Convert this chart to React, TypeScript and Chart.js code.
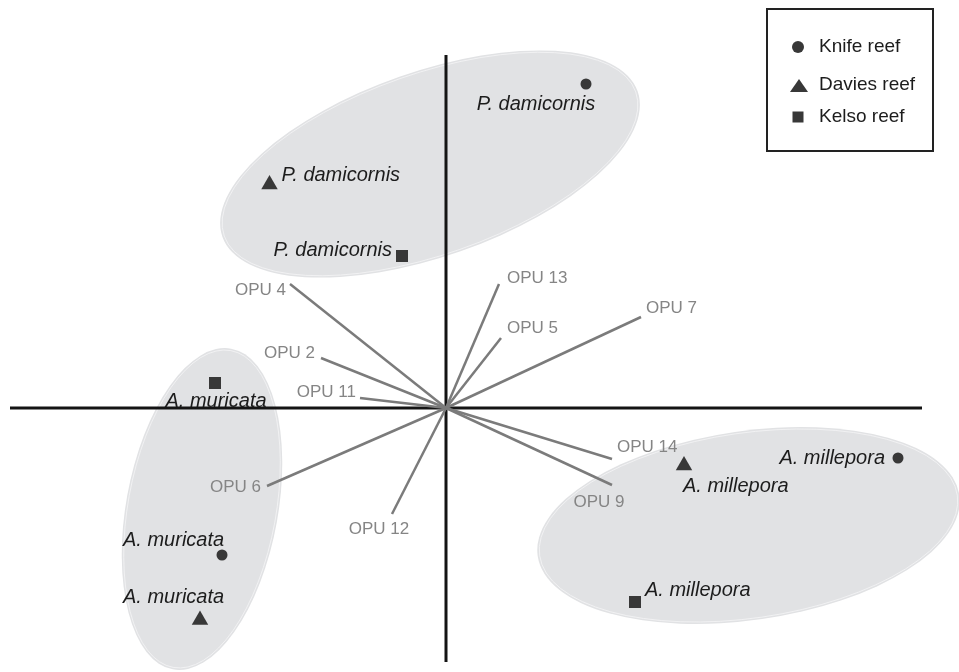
import React, { useEffect, useRef } from 'react';
import { Chart, registerables } from 'chart.js';

Chart.register(...registerables);

// ---------- data ----------
const REEFS = ['Knife reef', 'Davies reef', 'Kelso reef'];
const SPECIES = ['P. damicornis', 'A. muricata', 'A. millepora'];

// sample scores, ordered as SPECIES
const KNIFE_X = [1.4, -2.24, 4.52];
const KNIFE_Y = [3.24, -1.47, -0.5];
const DAVIES_X = [-1.765, -2.46, 2.38];
const DAVIES_Y = [2.235, -2.12, -0.575];
const KELSO_X = [-0.44, -2.31, 1.89];
const KELSO_Y = [1.52, 0.25, -1.94];

// OPU vectors (loadings)
const OPU_LABELS = ['OPU 4', 'OPU 2', 'OPU 11', 'OPU 6', 'OPU 12', 'OPU 13', 'OPU 5', 'OPU 7', 'OPU 14', 'OPU 9'];
const OPU_X = [-1.56, -1.25, -0.86, -1.79, -0.54, 0.53, 0.55, 1.95, 1.66, 1.66];
const OPU_Y = [1.24, 0.5, 0.1, -0.78, -1.06, 1.24, 0.7, 0.91, -0.51, -0.77];

// species group ellipses (ordered as SPECIES): centre, semi-axes, rotation (deg)
const ELLIPSE_CX = [-0.16, -2.44, 3.025];
const ELLIPSE_CY = [2.44, -1.01, -1.175];
const ELLIPSE_A = [2.2, 1.63, 2.13];
const ELLIPSE_B = [0.925, 0.76, 0.946];
const ELLIPSE_ANGLE = [19.3, 79.7, 8.24];

// axis line extents and visible ranges
const AXIS_X = [-4.36, 4.76];
const AXIS_Y = [-2.54, 3.53];
const X_RANGE = [-4.46, 5.13];
const Y_RANGE = [-2.64, 4.08];

// ---------- styles ----------
const MARK = '#383838';
const VEC = '#7b7b7b';
const OPU_TEXT = '#858585';
const TEXT = '#1c1c1c';
const FILL = '#e1e2e4';
const FONT = '"Liberation Sans", Arial, sans-serif';

// label offsets in px: [dx, dy, align] per reef, per species
const SPECIES_LABEL_POS: [number, number, CanvasTextAlign][][] = [
  [[-50, 20, 'center'], [-99, -15, 'left'], [-13, 0, 'right']],
  [[12, -9, 'left'], [-77, -23, 'left'], [-1, 21, 'left']],
  [[-10, -6, 'right'], [1, 18, 'center'], [10, -12, 'left']],
];
const OPU_LABEL_POS: [number, number, CanvasTextAlign][] = [
  [-4, 6, 'right'], [-6, -5, 'right'], [-4, -6, 'right'], [-6, 1, 'right'], [-13, 15, 'center'],
  [8, -6, 'left'], [6, -10, 'left'], [5, -9, 'left'], [5, -12, 'left'], [-13, 17, 'center'],
];

const pts = (xs: number[], ys: number[]) => xs.map((x, i) => ({ x, y: ys[i] }));

export default function App() {
  const ref = useRef<HTMLCanvasElement>(null);

  useEffect(() => {
    const canvas = ref.current;
    if (!canvas) return;

    const reefData = [pts(KNIFE_X, KNIFE_Y), pts(DAVIES_X, DAVIES_Y), pts(KELSO_X, KELSO_Y)];
    const reefStyles = [
      { pointStyle: 'circle', pointRadius: 5.5 },
      { pointStyle: 'triangle', pointRadius: 9.5 },
      { pointStyle: 'rect', pointRadius: 8.5 },
    ];

    const datasets: any[] = reefData.map((d, i) => ({
      type: 'scatter',
      label: REEFS[i],
      data: d,
      pointStyle: reefStyles[i].pointStyle,
      pointRadius: reefStyles[i].pointRadius,
      backgroundColor: MARK,
      borderColor: MARK,
      borderWidth: 0,
      order: 0,
    }));

    OPU_LABELS.forEach((l, i) => {
      datasets.push({
        type: 'line',
        label: l,
        data: [{ x: 0, y: 0 }, { x: OPU_X[i], y: OPU_Y[i] }],
        borderColor: VEC,
        borderWidth: 2.5,
        pointRadius: 0,
        fill: false,
        order: 1,
      });
    });

    datasets.push({
      type: 'line',
      label: 'axis1',
      data: [{ x: AXIS_X[0], y: 0 }, { x: AXIS_X[1], y: 0 }],
      borderColor: '#141414',
      borderWidth: 3,
      pointRadius: 0,
      fill: false,
      order: 2,
    });
    datasets.push({
      type: 'line',
      label: 'axis2',
      data: [{ x: 0, y: AXIS_Y[0] }, { x: 0, y: AXIS_Y[1] }],
      borderColor: '#141414',
      borderWidth: 3,
      pointRadius: 0,
      fill: false,
      order: 2,
    });

    const ellipsePlugin = {
      id: 'ellipses',
      beforeDatasetsDraw(chart: any) {
        const { ctx, scales } = chart;
        const xs = scales.x;
        const ys = scales.y;
        ctx.save();
        for (let i = 0; i < SPECIES.length; i++) {
          const cx = xs.getPixelForValue(ELLIPSE_CX[i]);
          const cy = ys.getPixelForValue(ELLIPSE_CY[i]);
          const rx = Math.abs(xs.getPixelForValue(ELLIPSE_A[i]) - xs.getPixelForValue(0));
          const ry = Math.abs(ys.getPixelForValue(ELLIPSE_B[i]) - ys.getPixelForValue(0));
          ctx.beginPath();
          ctx.ellipse(cx, cy, rx, ry, (-ELLIPSE_ANGLE[i] * Math.PI) / 180, 0, Math.PI * 2);
          ctx.fillStyle = FILL;
          ctx.fill();
          ctx.beginPath();
          ctx.ellipse(cx, cy, rx - 2, ry - 2, (-ELLIPSE_ANGLE[i] * Math.PI) / 180, 0, Math.PI * 2);
          ctx.strokeStyle = 'rgba(245,245,246,0.8)';
          ctx.lineWidth = 1;
          ctx.stroke();
        }
        ctx.restore();
      },
    };

    const labelPlugin = {
      id: 'labels',
      afterDatasetsDraw(chart: any) {
        const { ctx, scales } = chart;
        const xs = scales.x;
        const ys = scales.y;
        ctx.save();
        ctx.textBaseline = 'middle';
        // OPU labels
        ctx.font = `17px ${FONT}`;
        ctx.fillStyle = OPU_TEXT;
        OPU_LABELS.forEach((l, i) => {
          const [dx, dy, al] = OPU_LABEL_POS[i];
          ctx.textAlign = al;
          ctx.fillText(l, xs.getPixelForValue(OPU_X[i]) + dx, ys.getPixelForValue(OPU_Y[i]) + dy);
        });
        // species labels
        ctx.font = `italic 20px ${FONT}`;
        ctx.fillStyle = TEXT;
        reefData.forEach((d, r) => {
          d.forEach((p, s) => {
            const [dx, dy, al] = SPECIES_LABEL_POS[r][s];
            ctx.textAlign = al;
            ctx.fillText(SPECIES[s], xs.getPixelForValue(p.x) + dx, ys.getPixelForValue(p.y) + dy);
          });
        });
        ctx.restore();
      },
      afterDraw(chart: any) {
        const { ctx } = chart;
        ctx.save();
        // legend box
        ctx.strokeStyle = '#222';
        ctx.lineWidth = 2;
        ctx.strokeRect(767, 9, 166, 142);
        const rowsY = [47, 86, 117];
        const mx = 798;
        ctx.fillStyle = MARK;
        // circle
        ctx.beginPath();
        ctx.arc(mx, rowsY[0], 6, 0, Math.PI * 2);
        ctx.fill();
        // triangle
        ctx.beginPath();
        ctx.moveTo(mx + 1, rowsY[1] - 7);
        ctx.lineTo(mx + 10, rowsY[1] + 6);
        ctx.lineTo(mx - 8, rowsY[1] + 6);
        ctx.closePath();
        ctx.fill();
        // square
        ctx.fillRect(mx - 5.5, rowsY[2] - 5.5, 11, 11);
        ctx.fillStyle = TEXT;
        ctx.font = `19px ${FONT}`;
        ctx.textAlign = 'left';
        ctx.textBaseline = 'middle';
        REEFS.forEach((r, i) => ctx.fillText(r, 819, rowsY[i] - (i === 1 ? 1 : 0)));
        ctx.restore();
      },
    };

    const chart = new Chart(canvas, {
      type: 'scatter',
      data: { datasets },
      options: {
        responsive: false,
        animation: false,
        events: [],
        layout: { padding: 0, autoPadding: false },
        plugins: { legend: { display: false }, tooltip: { enabled: false }, title: { display: false } },
        scales: {
          x: { type: 'linear', min: X_RANGE[0], max: X_RANGE[1], display: false },
          y: { type: 'linear', min: Y_RANGE[0], max: Y_RANGE[1], display: false },
        },
      },
      plugins: [ellipsePlugin, labelPlugin],
    });

    return () => chart.destroy();
  }, []);

  return (
    <div style={{ position: 'fixed', left: 0, top: 0, width: 959, height: 672, background: '#fff' }}>
      <canvas ref={ref} width={959} height={672} style={{ display: 'block' }} />
    </div>
  );
}
